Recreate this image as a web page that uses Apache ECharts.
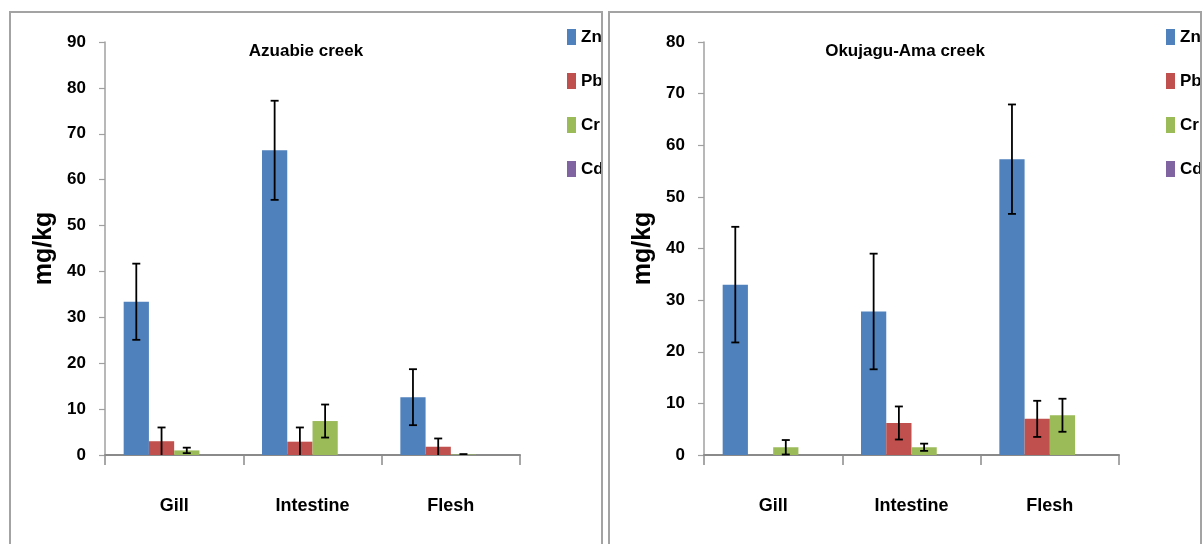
<!DOCTYPE html>
<html>
<head>
<meta charset="utf-8">
<script src="https://cdn.jsdelivr.net/npm/echarts@6/dist/echarts.min.js"></script>
<style>
  html, body { margin: 0; padding: 0; background: #fff; width: 1204px; height: 544px; overflow: hidden; }
  .panel { position: absolute; top: 11px; width: 590px; height: 560px; border: 2px solid #a3a3a3; overflow: hidden; background: #fff; }
  .chart { position: absolute; left: 0; top: 0; width: 590px; height: 545px; }
</style>
</head>
<body>
<div class="panel" style="left:9px;"><div id="c1" class="chart"></div></div>
<div class="panel" style="left:608px;"><div id="c2" class="chart"></div></div>
<script>
// ---- data ----
const categories = ['Gill', 'Intestine', 'Flesh'];
const metals = ['Zn', 'Pb', 'Cr', 'Cd'];
const colors = ['#4F81BD', '#C0504D', '#9BBB59', '#8064A2'];

// Azuabie creek (mean, error)
const azuZn = [33.4, 66.4, 12.6];
const azuZnErr = [8.3, 10.8, 6.1];
const azuPb = [3.0, 2.9, 1.8];
const azuPbErr = [3.0, 3.1, 1.8];
const azuCr = [1.0, 7.4, 0.1];
const azuCrErr = [0.6, 3.6, 0.1];
const azuCd = [0, 0, 0];
const azuCdErr = [0, 0, 0];

// Okujagu-Ama creek (mean, error)
const okuZn = [33.0, 27.8, 57.3];
const okuZnErr = [11.2, 11.2, 10.6];
const okuPb = [0, 6.2, 7.0];
const okuPbErr = [0, 3.2, 3.5];
const okuCr = [1.5, 1.5, 7.7];
const okuCrErr = [1.4, 0.7, 3.2];
const okuCd = [0, 0, 0];
const okuCdErr = [0, 0, 0];

const FONT = "'Liberation Sans', Arial, sans-serif";
const GAP = 0.27;

function build(el, title, yMax, vals, errs) {
  const chart = echarts.init(document.getElementById(el), null, { renderer: 'canvas' });
  const series = metals.map((m, i) => ({
    name: m,
    type: 'bar',
    data: vals[i],
    barGap: '0%',
    barCategoryGap: (GAP * 100) + '%',
    itemStyle: { color: colors[i] },
    z: 2
  }));
  const errData = [];
  vals.forEach((arr, s) => {
    arr.forEach((v, c) => {
      const e = errs[s][c];
      if (v === 0 && e === 0) return;
      errData.push([c, v, e, s]);
    });
  });
  series.push({
    type: 'custom',
    name: 'err',
    z: 5,
    silent: true,
    encode: { x: 0, y: 1 },
    data: errData,
    renderItem: function (params, api) {
      const c = api.value(0), v = api.value(1), e = api.value(2), s = api.value(3);
      const band = api.size([1, 0])[0];
      const group = band * (1 - GAP);
      const bw = group / metals.length;
      const base = api.coord([c, v]);
      const x = base[0] - group / 2 + bw * (s + 0.5);
      const lowVal = Math.max(0, v - e);
      const yTop = api.coord([c, v + e])[1];
      const yLow = api.coord([c, lowVal])[1];
      const cap = 4;
      const style = { stroke: '#000', lineWidth: 1.8 };
      const children = [
        { type: 'line', shape: { x1: x, y1: yTop, x2: x, y2: yLow }, style: style },
        { type: 'line', shape: { x1: x - cap, y1: yTop, x2: x + cap, y2: yTop }, style: style }
      ];
      if (v - e > 0.05) {
        children.push({ type: 'line', shape: { x1: x - cap, y1: yLow, x2: x + cap, y2: yLow }, style: style });
      }
      return { type: 'group', children: children };
    }
  });
  chart.setOption({
    animation: false,
    backgroundColor: '#fff',
    title: {
      text: title,
      left: 'center',
      top: 21,
      textStyle: { fontFamily: FONT, fontWeight: 'bold', fontSize: 17, color: '#000', lineHeight: 24 }
    },
    legend: {
      data: metals,
      orient: 'vertical',
      left: 556,
      top: 14,
      padding: 0,
      itemWidth: 9,
      itemHeight: 16,
      itemGap: 24,
      icon: 'rect',
      textStyle: { fontFamily: FONT, fontWeight: 'bold', fontSize: 17, color: '#000', lineHeight: 20 }
    },
    grid: { left: 94, top: 29, width: 415, height: 413 },
    xAxis: {
      type: 'category',
      data: categories,
      axisLine: { lineStyle: { color: '#8a8a8a', width: 2 } },
      axisTick: { show: true, length: 10, lineStyle: { color: '#8a8a8a', width: 1.5 } },
      axisLabel: { margin: 42, fontFamily: FONT, fontWeight: 'bold', fontSize: 18, color: '#000' }
    },
    yAxis: {
      type: 'value',
      min: 0,
      max: yMax,
      interval: 10,
      name: 'mg/kg',
      nameLocation: 'middle',
      nameGap: 43,
      nameTextStyle: { fontFamily: FONT, fontWeight: 'bold', fontSize: 25, color: '#000' },
      splitLine: { show: false },
      axisLine: { show: true, lineStyle: { color: '#a0a0a0', width: 1.5 } },
      axisTick: { show: true, length: 6, lineStyle: { color: '#a0a0a0', width: 1.2 } },
      axisLabel: { margin: 19, fontFamily: FONT, fontWeight: 'bold', fontSize: 17, color: '#000' }
    },
    series: series
  });
  return chart;
}

build('c1', 'Azuabie creek', 90,
  [azuZn, azuPb, azuCr, azuCd],
  [azuZnErr, azuPbErr, azuCrErr, azuCdErr]);
build('c2', 'Okujagu-Ama creek', 80,
  [okuZn, okuPb, okuCr, okuCd],
  [okuZnErr, okuPbErr, okuCrErr, okuCdErr]);
</script>
</body>
</html>
